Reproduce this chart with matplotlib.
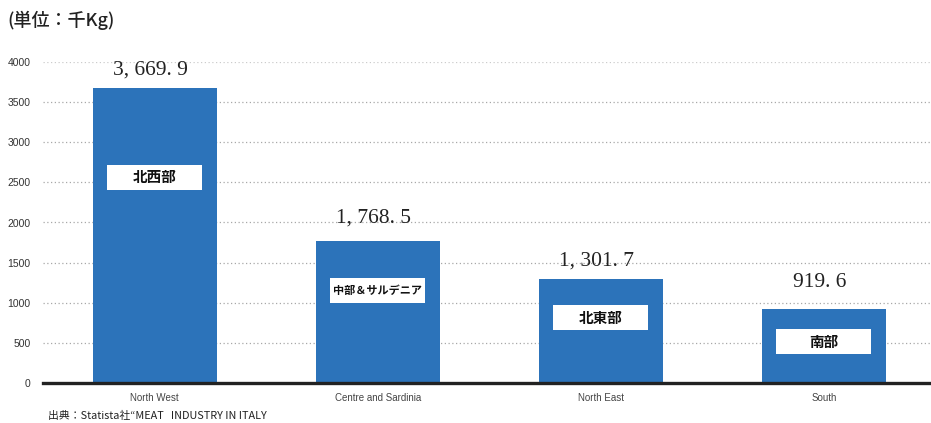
import matplotlib
matplotlib.use("Agg")
import matplotlib.pyplot as plt
from matplotlib.patches import Rectangle

plt.rcParams['font.family'] = ['Noto Sans CJK JP', 'DejaVu Sans']

regions = ["North West", "Centre and Sardinia", "North East", "South"]
region_labels_ja = ["北西部", "中部＆サルデニア", "北東部", "南部"]
volumes = [3669.9, 1768.5, 1301.7, 919.6]
y_ticks = [0, 500, 1000, 1500, 2000, 2500, 3000, 3500, 4000]

BAR_COLOR = "#2C73BA"

fig = plt.figure(figsize=(9.31, 4.23), dpi=100)
ax = fig.add_axes([43 / 931, 40 / 423, 888 / 931, 321 / 423])

x = list(range(len(regions)))
bars = ax.bar(x, volumes, width=0.556, color=BAR_COLOR, zorder=2)

ax.set_xlim(-0.5, 3.48)
ax.set_ylim(0, 4000)
ax.set_yticks(y_ticks)
ax.set_yticklabels([str(t) for t in y_ticks], fontsize=7.5, color="#333333",
                   family=["Liberation Sans"])
ax.set_xticks(x)
ax.set_xticklabels(regions, fontsize=7, color="#444444", family=["Liberation Sans"])
ax.tick_params(axis="both", length=0)
ax.tick_params(axis="y", pad=9)
ax.tick_params(axis="x", pad=7)

for s in ["top", "right", "left"]:
    ax.spines[s].set_visible(False)
ax.spines["bottom"].set_color("#222222")
ax.spines["bottom"].set_linewidth(2.4)
ax.spines["bottom"].set_zorder(3)

# dotted horizontal gridlines
for t in y_ticks[1:]:
    ax.axhline(t, color="#a8a8a8" if t < 4000 else "#cccccc",
               linestyle=(0, (1, 2)), linewidth=0.9, zorder=1)

# value labels above bars
label_offsets_px = [18, 23, 17, 27]
for xi, v, off in zip(x, volumes, label_offsets_px):
    txt = f"{v:,.1f}".replace(",", ", ").replace(".", ". ")
    ax.annotate(txt, (xi, v), xytext=(-3, off * 0.72), textcoords="offset points",
                ha="center", va="center", fontsize=15.5, color="#222222",
                family=["Liberation Serif"], annotation_clip=False)

# Japanese region name boxes inside bars
box_centers = [2561, 1153, 816, 517]
box_w = 0.426
box_h = 311
box_fs = [10.5, 8, 10.5, 10.5]
for xi, yc, name, fs in zip(x, box_centers, region_labels_ja, box_fs):
    ax.add_patch(Rectangle((xi - box_w / 2, yc - box_h / 2), box_w, box_h,
                           facecolor="white", edgecolor="none", zorder=3))
    ax.text(xi, yc, name, ha="center", va="center", fontsize=fs,
            fontweight="bold", color="#111111", zorder=4)

fig.text(7 / 931, 1 - 20 / 423, "(単位：千Kg)", fontsize=13, color="#222222",
         ha="left", va="center", fontweight="medium")
fig.text(48 / 931, 1 - 416 / 423, "出典：Statista社“MEAT   INDUSTRY IN ITALY",
         fontsize=7.8, color="#222222", ha="left", va="center")

fig.savefig("out.png", dpi=100)
